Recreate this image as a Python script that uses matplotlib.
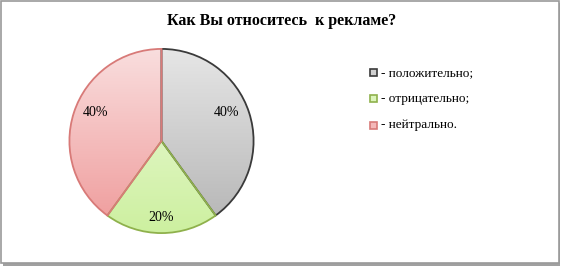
import numpy as np
import matplotlib.pyplot as plt
from matplotlib.colors import LinearSegmentedColormap
from matplotlib.patches import Rectangle

plt.rcParams['font.family'] = ['Liberation Serif', 'DejaVu Serif']

title = "Как Вы относитесь  к рекламе?"
labels = ["положительно;", "отрицательно;", "нейтрально."]
values = [40, 20, 40]
# gradient colors per slice (top, bottom), edge color
grad_top = ["#e6e6e6", "#eefadc", "#f9dede"]
grad_bot = ["#b4b4b4", "#cdf0a0", "#ef9a9a"]
edges = ["#3a3a3a", "#8fb14c", "#d87a78"]
legend_fill = ["#d0d0d0", "#dcf5bb", "#f4b8b8"]

W, H = 562, 267
fig = plt.figure(figsize=(W / 100, H / 100), dpi=100)

# outer frame with slight shadow
fig.patches.append(Rectangle((3 / W, 1 - 266 / H), 557 / W, 263 / H, transform=fig.transFigure,
                             facecolor="#a0a0a0", edgecolor="none", zorder=-2))
fig.patches.append(Rectangle((0.5 / W, 1 - 263 / H), 558 / W, 262.5 / H, transform=fig.transFigure,
                             facecolor="white", edgecolor="#9a9a9a", lw=1.2, zorder=-1))

cx, cy, r = 161.5, 141, 93
ax = fig.add_axes([(cx - r) / W, 1 - (cy + r) / H, 2 * r / W, 2 * r / H])
ax.set_zorder(5)
ax.set_aspect("equal")
ax.axis("off")

wedges, texts = ax.pie(values, startangle=90, counterclock=False, radius=1,
                       colors=legend_fill, wedgeprops=dict(linewidth=1.3))
for i, w in enumerate(wedges):
    w.set_edgecolor(edges[i])
    cmap = LinearSegmentedColormap.from_list("g%d" % i, [grad_top[i], grad_bot[i]])
    im = ax.imshow(np.linspace(0, 1, 200)[:, None] * np.ones((1, 2)), cmap=cmap,
                   extent=[-1, 1, -1, 1], aspect="auto", zorder=1, origin="upper")
    im.set_clip_path(w)
    w.set_facecolor("none")
    w.set_zorder(2)
ax.set_xlim(-1.01, 1.01)
ax.set_ylim(-1.01, 1.01)

# percentage labels
label_pos = [(0.71, 0.31), (0.0, -0.83), (-0.72, 0.31)]
for v, (lx, ly) in zip(values, label_pos):
    ax.text(lx, ly, f"{v}%", ha="center", va="center", fontsize=10, zorder=3)

fig.text(282 / W, 1 - 21 / H, title, ha="center", va="center", fontsize=11.5, fontweight="bold")

# legend
ly0 = 73
for i, lab in enumerate(labels):
    y = ly0 + i * 26
    fig.patches.append(Rectangle((370 / W, 1 - (y + 3.5) / H), 7 / W, 7 / H, transform=fig.transFigure,
                                 facecolor=legend_fill[i], edgecolor=edges[i], lw=1.2, zorder=3))
    fig.text(381 / W, 1 - y / H, "- " + lab, ha="left", va="center", fontsize=9.5)

fig.savefig("out.png", dpi=100)
